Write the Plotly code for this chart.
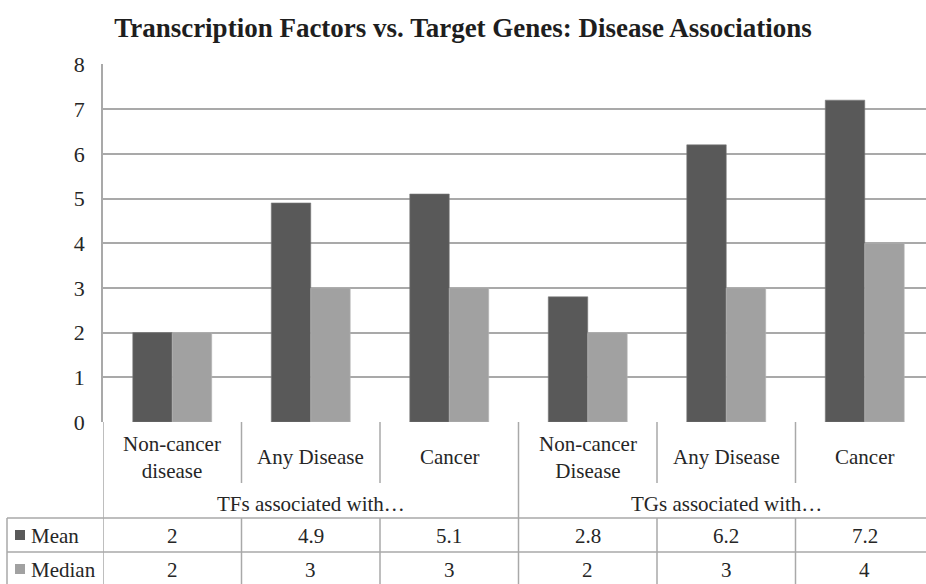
import plotly.graph_objects as go

# Chart data
categories = ["Non-cancer<br>disease", "Any Disease", "Cancer",
              "Non-cancer<br>Disease", "Any Disease", "Cancer"]
groups = ["TFs associated with…", "TGs associated with…"]
mean_values = [2, 4.9, 5.1, 2.8, 6.2, 7.2]
median_values = [2, 3, 3, 2, 3, 4]
y_ticks = [0, 1, 2, 3, 4, 5, 6, 7, 8]

W, H = 926, 584
FONT = "Liberation Serif"
TEXT = "#262626"
GRID = "#a9a9a9"
MEAN_C = "#595959"
MEDIAN_C = "#a1a1a1"
TABLE_SIZE = 21

# pixel helpers for the layout (paper coordinates)
def px(x):
    return x / W

def py(y):
    return 1 - y / H

plot_left, plot_top, plot_bottom = 103, 64.4, 422
col_w = 138.5
x_right = 5 + (W - (plot_left + 5.5 * col_w)) / col_w

xs = list(range(len(categories)))

fig = go.Figure()
fig.add_trace(go.Bar(x=xs, y=mean_values, name="Mean",
                     marker=dict(color=MEAN_C, line=dict(color="#7a7a7a", width=0.6))))
fig.add_trace(go.Bar(x=xs, y=median_values, name="Median",
                     marker=dict(color=MEDIAN_C, line=dict(color="#b5b5b5", width=0.6))))

shapes = []
annotations = []

def vline(x, y0, y1, xref="x"):
    shapes.append(dict(type="line", xref=xref, yref="paper", x0=x, x1=x,
                       y0=py(y0), y1=py(y1), line=dict(color=GRID, width=1.5)))

def hline(y, x0, x1):
    shapes.append(dict(type="line", xref="paper", yref="paper", x0=px(x0), x1=px(x1),
                       y0=py(y), y1=py(y), line=dict(color=GRID, width=1.5)))

row_top, row_mid, row_bot = 518, 552, 590
cat_sep_bottom = 483

# table grid under the plot
vline(-0.5, plot_bottom, row_bot)
for b in [0.5, 1.5, 3.5, 4.5, 5.5]:
    vline(b, plot_bottom, cat_sep_bottom)
    vline(b, row_top, row_bot)
vline(2.5, plot_bottom, row_bot)
hline(row_top, 7, W)
hline(row_mid, 7, W)
vline(px(7), row_top, row_bot, xref="paper")

# category labels
for i, c in enumerate(categories):
    annotations.append(dict(x=i, y=py(457), xref="x", yref="paper", text=c,
                            showarrow=False, font=dict(family=FONT, size=TABLE_SIZE, color=TEXT),
                            xanchor="center", yanchor="middle"))
# group labels
for g, center in zip(groups, [1, 4]):
    annotations.append(dict(x=center, y=py(504), xref="x", yref="paper", text=g,
                            showarrow=False, font=dict(family=FONT, size=TABLE_SIZE, color=TEXT),
                            xanchor="center", yanchor="middle"))
# value rows
for vals, yc in [(mean_values, 536), (median_values, 570)]:
    for i, v in enumerate(vals):
        annotations.append(dict(x=i, y=py(yc), xref="x", yref="paper", text=f"{v:g}",
                                showarrow=False, font=dict(family=FONT, size=TABLE_SIZE, color=TEXT),
                                xanchor="center", yanchor="middle"))
# row legend keys
for name, col, yc in [("Mean", MEAN_C, 536), ("Median", MEDIAN_C, 570)]:
    shapes.append(dict(type="rect", xref="paper", yref="paper",
                       x0=px(15), x1=px(25), y0=py(yc - 6), y1=py(yc + 4),
                       fillcolor=col, line=dict(width=0)))
    annotations.append(dict(x=px(29), y=py(yc), xref="paper", yref="paper", text=name,
                            showarrow=False, font=dict(family=FONT, size=TABLE_SIZE, color=TEXT),
                            xanchor="left", yanchor="middle"))

fig.update_layout(
    template="none",
    width=W, height=H,
    margin=dict(l=0, r=0, t=0, b=0, pad=0),
    paper_bgcolor="white", plot_bgcolor="white",
    barmode="group", bargap=0.43, bargroupgap=0,
    showlegend=False,
    title=dict(text="<b>Transcription Factors vs. Target Genes: Disease Associations</b>",
               x=0.5, xanchor="center", y=py(28), yanchor="middle",
               font=dict(family=FONT, size=27, color="#1e1e1e")),
    xaxis=dict(domain=[px(plot_left), 1], range=[-0.5, x_right], automargin=False,
               showgrid=False, showticklabels=False, zeroline=False, showline=False),
    yaxis=dict(domain=[py(plot_bottom), py(plot_top)], range=[0, 8], automargin=False,
               tickvals=y_ticks, showgrid=True, gridcolor=GRID, gridwidth=1.5,
               zeroline=False, showline=True, linecolor=GRID, linewidth=1.5,
               ticks="", ticklabelstandoff=12,
               tickfont=dict(family=FONT, size=22, color=TEXT)),
    shapes=shapes,
    annotations=annotations,
)

fig.write_html("out.html")
